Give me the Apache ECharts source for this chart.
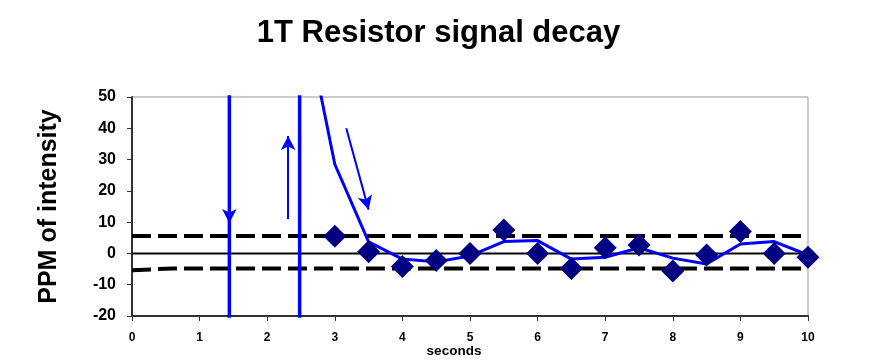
<!DOCTYPE html>
<html><head><meta charset="utf-8">
<script src="https://cdn.jsdelivr.net/npm/echarts@6/dist/echarts.min.js"></script>
<style>html,body{margin:0;padding:0;background:#fff}#c{width:877px;height:360px}</style>
</head><body><div id="c"></div>
<script>
// Data
const markerTimes = [3, 3.5, 4, 4.5, 5, 5.5, 6, 6.5, 7, 7.5, 8, 8.5, 9, 9.5, 10];
const markerValues = [5.5, 0.5, -4.2, -2.3, 0, 7.5, 0, -4.8, 1.8, 2.7, -5.6, -0.5, 7, 0, -1.2];
const lineTimes = [2.5, 3, 3.5, 4, 4.5, 5, 5.5, 6, 6.5, 7, 7.5, 8, 8.5, 9, 9.5, 10];
const lineValues = [82, 28.5, 3.7, -1.8, -2.7, -0.8, 3.8, 4.1, -1.8, -1.2, 1.8, -1.5, -3.4, 3, 3.8, -0.5];
const spikeTimes = [1.44, 2.48];
const upperLimitX = [0, 10];
const upperLimitY = [5.6, 5.6];
const lowerLimitX = [0, 0.6, 10];
const lowerLimitY = [-5.4, -4.8, -4.8];
const zeroX = [0, 10];
const zeroY = [0, 0];
const xTicks = [0, 1, 2, 3, 4, 5, 6, 7, 8, 9, 10];
const yTicks = [-20, -10, 0, 10, 20, 30, 40, 50];

const zip = (xs, ys) => xs.map((x, i) => [x, ys[i]]);
const BLUE = '#0000ff';

const chart = echarts.init(document.getElementById('c'));
chart.setOption({
  animation: false,
  backgroundColor: '#fff',
  title: {
    text: '1T Resistor signal decay', left: 'center', top: 13,
    textStyle: { fontFamily: 'Liberation Sans', fontWeight: 'bold', fontSize: 31, color: '#000' }
  },
  grid: { left: 132, right: 69, top: 97, bottom: 44, show: true, borderColor: '#999', borderWidth: 1,
          containLabel: false, outerBoundsMode: 'none' },
  xAxis: {
    type: 'value', min: xTicks[0], max: xTicks[xTicks.length - 1], interval: 1,
    name: 'seconds', nameLocation: 'middle', nameGap: 28, nameMoveOverlap: false,
    nameTextStyle: { fontFamily: 'Liberation Sans', fontWeight: 'bold', fontSize: 13.5, color: '#000', padding: [0, 32, 0, 0] },
    axisLine: { onZero: false, lineStyle: { color: '#333', width: 2 } },
    axisTick: { show: true, length: 5, lineStyle: { color: '#333', width: 1 } },
    axisLabel: { fontFamily: 'Liberation Sans', fontWeight: 'bold', fontSize: 12, color: '#000', margin: 16 },
    splitLine: { show: false }
  },
  yAxis: {
    type: 'value', min: yTicks[0], max: yTicks[yTicks.length - 1], interval: 10,
    name: 'PPM of intensity', nameLocation: 'middle', nameGap: 70, nameRotate: 90, nameMoveOverlap: false,
    nameTextStyle: { fontFamily: 'Liberation Sans', fontWeight: 'bold', fontSize: 25, color: '#000' },
    axisLine: { show: true, lineStyle: { color: '#333', width: 2 } },
    axisTick: { show: true, length: 5, lineStyle: { color: '#333', width: 1 } },
    axisLabel: { fontFamily: 'Liberation Sans', fontWeight: 'bold', fontSize: 16, color: '#000', margin: 16 },
    splitLine: { show: false }
  },
  series: [
    { type: 'line', data: zip(zeroX, zeroY), symbol: 'none', lineStyle: { color: '#000', width: 2 }, z: 2 },
    { type: 'line', data: zip(upperLimitX, upperLimitY), symbol: 'none', lineStyle: { color: '#000', width: 4, type: [19, 7] }, z: 2 },
    { type: 'line', data: zip(lowerLimitX, lowerLimitY), symbol: 'none', lineStyle: { color: '#000', width: 4, type: [19, 7] }, z: 2 },
    { type: 'line', data: [[spikeTimes[0], 200], [spikeTimes[0], -200]], symbol: 'none', lineStyle: { color: BLUE, width: 3.5 }, z: 3 },
    { type: 'line', data: [[spikeTimes[1], -200], [spikeTimes[1], 200]], symbol: 'none', lineStyle: { color: BLUE, width: 3.5 }, z: 3 },
    { type: 'line', data: zip(lineTimes, lineValues), symbol: 'none', lineStyle: { color: BLUE, width: 3 }, z: 4,
      markLine: {
        silent: true, symbol: ['none', 'arrow'], symbolSize: [11, 14],
        label: { show: false },
        lineStyle: { color: BLUE, width: 2, type: 'solid' },
        data: [
          [{ coord: [2.31, 11] }, { coord: [2.31, 37.5] }],
          [{ coord: [3.17, 40] }, { coord: [3.5, 14] }],
          [{ coord: [1.44, 16] }, { coord: [1.44, 9.7] }]
        ]
      }
    },
    { type: 'line', data: zip(markerTimes, markerValues), symbol: 'diamond', symbolSize: 23,
      lineStyle: { width: 0, opacity: 0 }, itemStyle: { color: '#000080' }, z: 5 }
  ]
});
</script></body></html>
